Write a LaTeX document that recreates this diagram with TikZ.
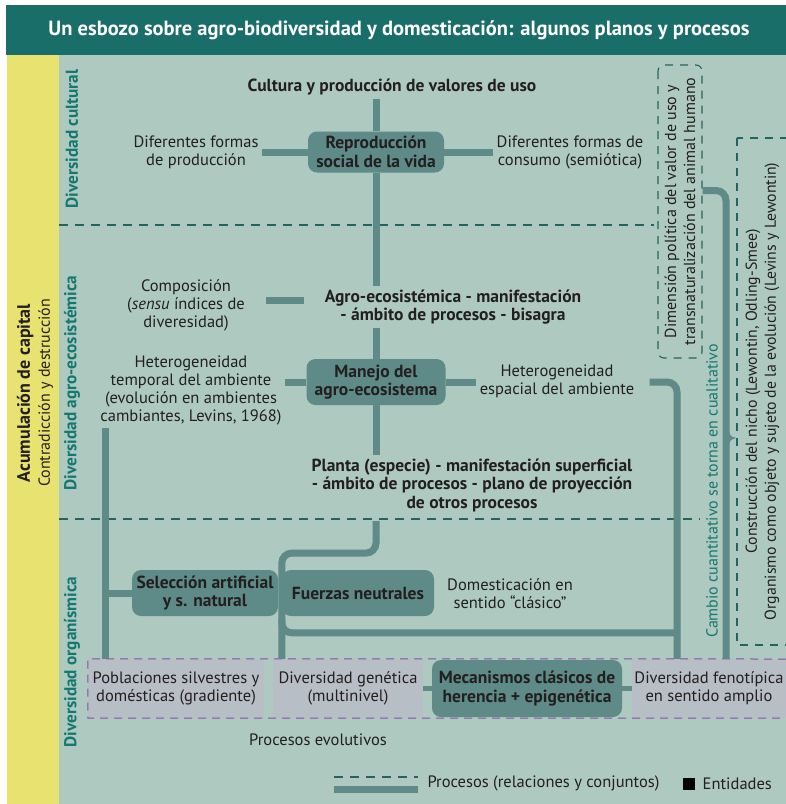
\documentclass[tikz,border=0pt]{standalone}
\usepackage{fontspec}
\setmainfont{PT Sans}
\usetikzlibrary{positioning}
\definecolor{barra}{RGB}{26,110,106}
\definecolor{fondo}{RGB}{174,201,192}
\definecolor{capital}{RGB}{232,227,112}
\definecolor{enlace}{RGB}{94,138,135}
\definecolor{rotulo}{RGB}{20,120,110}
\definecolor{plano}{RGB}{35,100,95}
\definecolor{lila}{RGB}{183,190,198}
\definecolor{violeta}{RGB}{130,80,170}
\definecolor{tinta}{RGB}{35,31,32}

\begin{document}
\begin{tikzpicture}[x=1pt,y=-1pt,
  every node/.style={text=tinta, font=\fontsize{16.5}{18}\selectfont, align=center},
  negrita/.style={font=\fontsize{17.5}{18.5}\selectfont\bfseries},
  entidad/.style={fill=enlace, rounded corners=9pt, inner sep=0pt, negrita},
  celda/.style={fill=lila, inner sep=0pt, minimum height=59pt},
  proceso/.style={draw=enlace, line width=7pt},
  corte/.style={draw=plano, line width=1.1pt, dash pattern=on 9pt off 7pt},
  diversidad/.style={rotate=90, text=rotulo, font=\fontsize{17.2}{18}\selectfont\bfseries}]
  \useasboundingbox (0,0) rectangle (786,804);
  \fill[white] (0,0) rectangle (786,804);
  \fill[barra] (6,5) rectangle (786,55);
  \fill[capital] (7,55) rectangle (59,804);
  \fill[fondo] (59,55) rectangle (786,804);
  \node[text=white, font=\fontsize{20.5}{22}\selectfont\bfseries] (titulo) at (399,30)
    {Un esbozo sobre agro-biodiversidad y domesticación: algunos planos y procesos};

  % planos
  \node[rotate=90, font=\fontsize{16}{20}\selectfont] (acum) at (35,393)
    {{\fontsize{18}{20}\selectfont\bfseries Acumulación de capital}\\Contradicción y destrucción};
  \node[diversidad] (dcult) at (72,139) {Diversidad cultural};
  \node[diversidad] (dagro) at (72,383) {Diversidad agro-ecosistémica};
  \node[diversidad] (dorg) at (72,662) {Diversidad organísmica};
  \draw[corte] (59,225) -- (654,225);
  \draw[corte] (59,519) -- (700,519);

  % cultural
  \node[negrita] (cultura) at (392,87) {Cultura y producción de valores de uso};
  \node[entidad, minimum width=136pt, minimum height=41pt] (repro) at (376,152) {Reproducción\\social de la vida};
  \node (prodform) at (196,152) {Diferentes formas\\de producción};
  \node (consumo) at (570,152) {Diferentes formas de\\consumo (semiótica)};

  % agro-ecosistemica
  \node[negrita] (agro) at (453,307) {Agro-ecosistémica - manifestación\\- ámbito de procesos - bisagra};
  \node (compos) at (186,305) {Composición\\(\textit{sensu} índices de\\diveresidad)};
  \node[entidad, minimum width=139pt, minimum height=46pt] (manejo) at (376,382) {Manejo del\\agro-ecosistema};
  \node (tempo) at (191,390) {Heterogeneidad\\temporal del ambiente\\(evolución en ambientes\\cambiantes, Levins, 1968)};
  \node (espacial) at (557,381) {Heterogeneidad\\espacial del ambiente};
  \node[negrita] (planta) at (472,485) {Planta (especie) - manifestación superficial\\- ámbito de procesos - plano de proyección\\de otros procesos};

  % organismica
  \node[entidad, minimum width=146pt, minimum height=46pt] (seleccion) at (205,593) {Selección artificial\\y s. natural};
  \node[entidad, minimum width=152pt, minimum height=46pt] (fuerzas) at (358,593) {Fuerzas neutrales};
  \node (domest) at (510,594) {Domesticación en\\sentido “clásico”};
  \node[celda, minimum width=176pt] (pobl) at (176,688.5) {Poblaciones silvestres y\\domésticas (gradiente)};
  \node[celda, minimum width=150pt] (genet) at (348,688.5) {Diversidad genética\\(multinivel)};
  \node[entidad, minimum width=190pt, minimum height=57pt] (mecan) at (527,688.5) {Mecanismos clásicos de\\herencia + epigenética};
  \node[celda, minimum width=154pt] (fenot) at (709,688.5) {Diversidad fenotípica\\en sentido amplio};
  \draw[violeta, line width=1pt, dash pattern=on 8pt off 6pt] (786,659) -- (pobl.north west) -- (pobl.south west) -- (786,718);
  \node (evol) at (318,740) {Procesos evolutivos};

  % columna derecha
  \node[rotate=90, draw=plano, line width=1.1pt, dash pattern=on 8pt off 7pt, rounded corners=6pt,
    minimum width=293pt, minimum height=44pt, inner sep=0pt, font=\fontsize{16}{19}\selectfont] (dimension) at (680,211.5)
    {Dimensión política del valor de uso y\\transnaturalización del animal humano};
  \node[rotate=90, draw=plano, line width=1.1pt, dash pattern=on 8pt off 7pt,
    minimum width=507pt, minimum height=51pt, inner sep=0pt, font=\fontsize{15.8}{19}\selectfont] (nicho) at (762.5,391.5)
    {Construcción del nicho (Lewontin, Odling-Smee)\\Organismo como objeto y sujeto de la evolución (Levins y Lewontin)};
  \node[rotate=90, text=rotulo, font=\fontsize{16}{18}\selectfont] (cambio) at (712,491) {Cambio cuantitativo se torna en cualitativo};

  % procesos
  \coordinate (piesilv) at ([xshift=18pt]pobl.north west);
  \coordinate (pieneutral) at ([xshift=9pt]genet.north west);
  \coordinate (piebus) at ([xshift=-32pt]fenot.north);
  \coordinate (piefeno) at ([xshift=17pt]fenot.north);
  \draw[proceso] (repro |- cultura.south) -- (repro.north);
  \draw[proceso] (repro.south) -- (repro |- agro.north);
  \draw[proceso] (prodform.east) -- (repro.west);
  \draw[proceso] (repro.east) -- (consumo.west);
  \draw[proceso] ([xshift=18pt,yshift=5pt]compos.east) -- ++(38,0);
  \draw[proceso] (manejo |- agro.south) -- (manejo.north);
  \draw[proceso] (manejo.south) -- (manejo |- planta.north);
  \draw[proceso] (tempo.east |- manejo) -- (manejo.west);
  \draw[proceso] (manejo.east) -- (espacial.west |- manejo);
  \draw[proceso, rounded corners=10pt] ([xshift=12pt]espacial.east |- manejo) -| (piebus);
  \draw[proceso, rounded corners=10pt, shorten <=6pt] (manejo |- planta.south) -- ++(0,38) -| (pieneutral);
  \draw[proceso, rounded corners=10pt] ([yshift=40pt]pieneutral) |- ([yshift=26pt]piebus);
  \draw[proceso] (piesilv |- tempo.south) -- (piesilv);
  \draw[proceso] (piesilv |- seleccion.west) -- (seleccion.west);
  \draw[proceso, line width=5pt] (genet.east) -- (mecan.west);
  \draw[proceso, line width=5pt] (mecan.east) -- (fenot.west);
  \draw[proceso, rounded corners=10pt] ([yshift=21pt]dimension.south) -| (piefeno);
  \fill[enlace] (729,430) .. controls (730,436) .. (736,438) .. controls (730,440) .. (729,446) -- cycle;

  % leyenda
  \draw[corte] (334,777) -- (418,777);
  \draw[proceso] (334,789) -- (418,789);
  \node[anchor=west] (leyproc) at (424,783) {Procesos (relaciones y conjuntos)};
  \node[fill=black, minimum size=12pt, inner sep=0pt] (leyent) at (689,784) {};
  \node[anchor=west, right=4pt of leyent] (leyentxt) {Entidades};
\end{tikzpicture}
\end{document}
